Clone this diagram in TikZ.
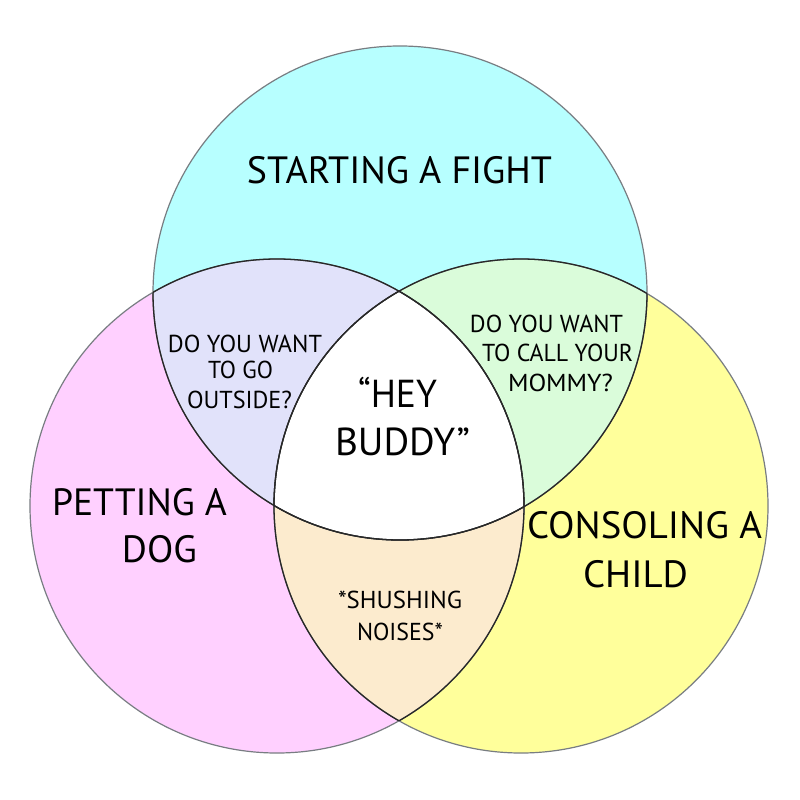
\documentclass[tikz,border=0pt]{standalone}
\usepackage{fontspec}
\setmainfont{PT Sans}
\usepackage{graphicx}
\definecolor{cyanf}{RGB}{183,255,255}
\definecolor{pinkf}{RGB}{255,208,255}
\definecolor{yellowf}{RGB}{255,255,155}
\definecolor{lavf}{RGB}{225,226,250}
\definecolor{greenf}{RGB}{218,252,218}
\definecolor{peachf}{RGB}{252,235,206}
\definecolor{outerc}{RGB}{120,125,130}
\definecolor{innerc}{RGB}{40,40,40}
\newcommand\fitw[2]{\resizebox{#1pt}{\height}{#2}}
\begin{document}
\begin{tikzpicture}[x=1pt,y=-1pt,
  big/.style={anchor=base,inner sep=0pt,font=\fontsize{38}{40}\selectfont},
  small/.style={anchor=base,inner sep=0pt,font=\fontsize{24.5}{26}\selectfont},
  mid/.style={anchor=base,inner sep=0pt,font=\fontsize{39}{41}\selectfont},
  outerline/.style={draw=outerc,line width=1.2pt},
  innerline/.style={draw=innerc,line width=1.3pt}]
\useasboundingbox (0,0) rectangle (800,800);
\fill[white] (0,0) rectangle (800,800);
\coordinate (T) at (400,293);
\coordinate (L) at (277,506);
\coordinate (R) at (521,506);
\def\rad{247pt}
% base fills
\fill[cyanf] (T) circle[radius=\rad];
\fill[pinkf] (L) circle[radius=\rad];
\fill[yellowf] (R) circle[radius=\rad];
% pair overlaps
\begin{scope}
  \clip (T) circle[radius=\rad];
  \fill[lavf] (L) circle[radius=\rad];
  \fill[greenf] (R) circle[radius=\rad];
\end{scope}
\begin{scope}
  \clip (L) circle[radius=\rad];
  \fill[peachf] (R) circle[radius=\rad];
\end{scope}
% triple overlap
\begin{scope}
  \clip (T) circle[radius=\rad];
  \clip (L) circle[radius=\rad];
  \fill[white] (R) circle[radius=\rad];
\end{scope}
% outlines
\draw[outerline] (T) circle[radius=\rad];
\draw[outerline] (L) circle[radius=\rad];
\draw[outerline] (R) circle[radius=\rad];
\begin{scope}
  \clip (T) circle[radius=\rad];
  \draw[innerline] (L) circle[radius=\rad];
  \draw[innerline] (R) circle[radius=\rad];
\end{scope}
\begin{scope}
  \clip (L) circle[radius=\rad];
  \draw[innerline] (T) circle[radius=\rad];
  \draw[innerline] (R) circle[radius=\rad];
\end{scope}
\begin{scope}
  \clip (R) circle[radius=\rad];
  \draw[innerline] (T) circle[radius=\rad];
  \draw[innerline] (L) circle[radius=\rad];
\end{scope}
% labels
\node[big] (fight) at (399.5,183) {\fitw{305}{STARTING A FIGHT}};
\node[big] (pet1) at (139.5,515) {\fitw{175}{PETTING A}};
\node[big] (pet2) at (159.5,562) {\fitw{75}{DOG}};
\node[big] (con1) at (644.5,538) {\fitw{235}{CONSOLING A}};
\node[big] (con2) at (635.5,587) {\fitw{105}{CHILD}};
\node[small] (out1) at (245,352) {\fitw{154}{DO YOU WANT}};
\node[small] (out2) at (240.5,378) {\fitw{65}{TO GO}};
\node[small] (out3) at (239.5,408) {\fitw{105}{OUTSIDE?}};
\node[small] (mom1) at (546.5,332) {\fitw{153}{DO YOU WANT}};
\node[small] (mom2) at (557.5,361) {\fitw{151}{TO CALL YOUR}};
\node[small] (mom3) at (560.5,391) {\fitw{105}{MOMMY?}};
\node[mid] (hey1) at (397.5,407) {\fitw{79}{“HEY}};
\node[mid] (hey2) at (402.5,455) {\fitw{135}{BUDDY”}};
\node[small] (shh1) at (400,608) {\fitw{124}{*SHUSHING}};
\node[small] (shh2) at (400,640) {\fitw{86}{NOISES*}};
\end{tikzpicture}
\end{document}
